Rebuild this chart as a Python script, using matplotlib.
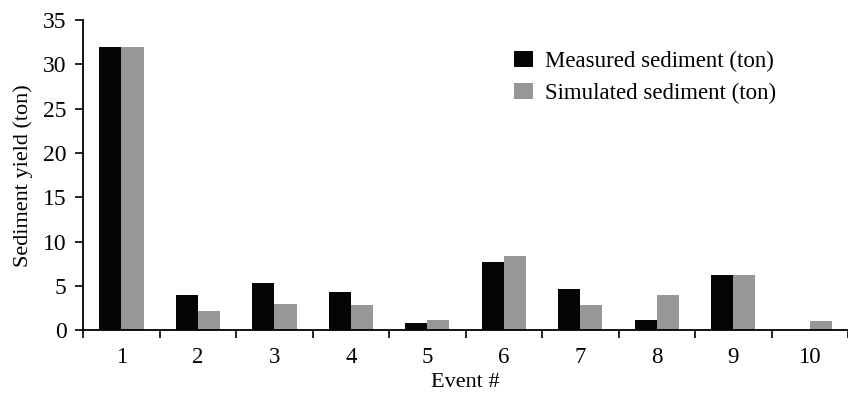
import numpy as np
import matplotlib
matplotlib.use("Agg")
import matplotlib.pyplot as plt

# values
events = ["1", "2", "3", "4", "5", "6", "7", "8", "9", "10"]
measured = [32.0, 4.0, 5.3, 4.3, 0.8, 7.7, 4.6, 1.1, 6.2, 0.0]
simulated = [32.0, 2.2, 2.9, 2.8, 1.2, 8.4, 2.8, 4.0, 6.2, 1.0]

plt.rcParams["font.family"] = ["Liberation Serif", "DejaVu Serif"]

fig = plt.figure(figsize=(8.48, 3.94), dpi=100)
ax = fig.add_axes([0.098, 0.162, 0.902, 0.787])

x = np.arange(1, len(events) + 1)
w = 0.29
ax.bar(x - w / 2, measured, width=w, color="#050505", label="Measured sediment (ton)")
ax.bar(x + w / 2, simulated, width=w, color="#979797", label="Simulated sediment (ton)")

ax.set_ylim(0, 35)
ax.set_yticks(range(0, 36, 5))
ax.set_xlim(0.5, 10.45)

# category labels centred, tick marks on the boundaries
ax.set_xticks(x)
ax.set_xticklabels(events)
ax.set_xticks(np.arange(0.5, 10.6, 1), minor=True)
ax.tick_params(axis="x", which="major", length=0, labelsize=16.5, pad=12)
ax.tick_params(axis="x", which="minor", length=6, width=1.2, direction="out")
ax.tick_params(axis="y", length=6, width=1.2, labelsize=17, pad=6)

for s in ["top", "right"]:
    ax.spines[s].set_visible(False)
for s in ["left", "bottom"]:
    ax.spines[s].set_linewidth(1.3)

ax.set_xlabel("Event #", fontsize=16, labelpad=4)
ax.set_ylabel("Sediment yield (ton)", fontsize=16, labelpad=7)

ax.legend(loc="upper left", bbox_to_anchor=(0.537, 0.966), frameon=False,
          fontsize=16.5, handlelength=0.8, handleheight=0.7, handletextpad=0.55,
          labelspacing=0.45)

fig.savefig("out.png", dpi=100)
